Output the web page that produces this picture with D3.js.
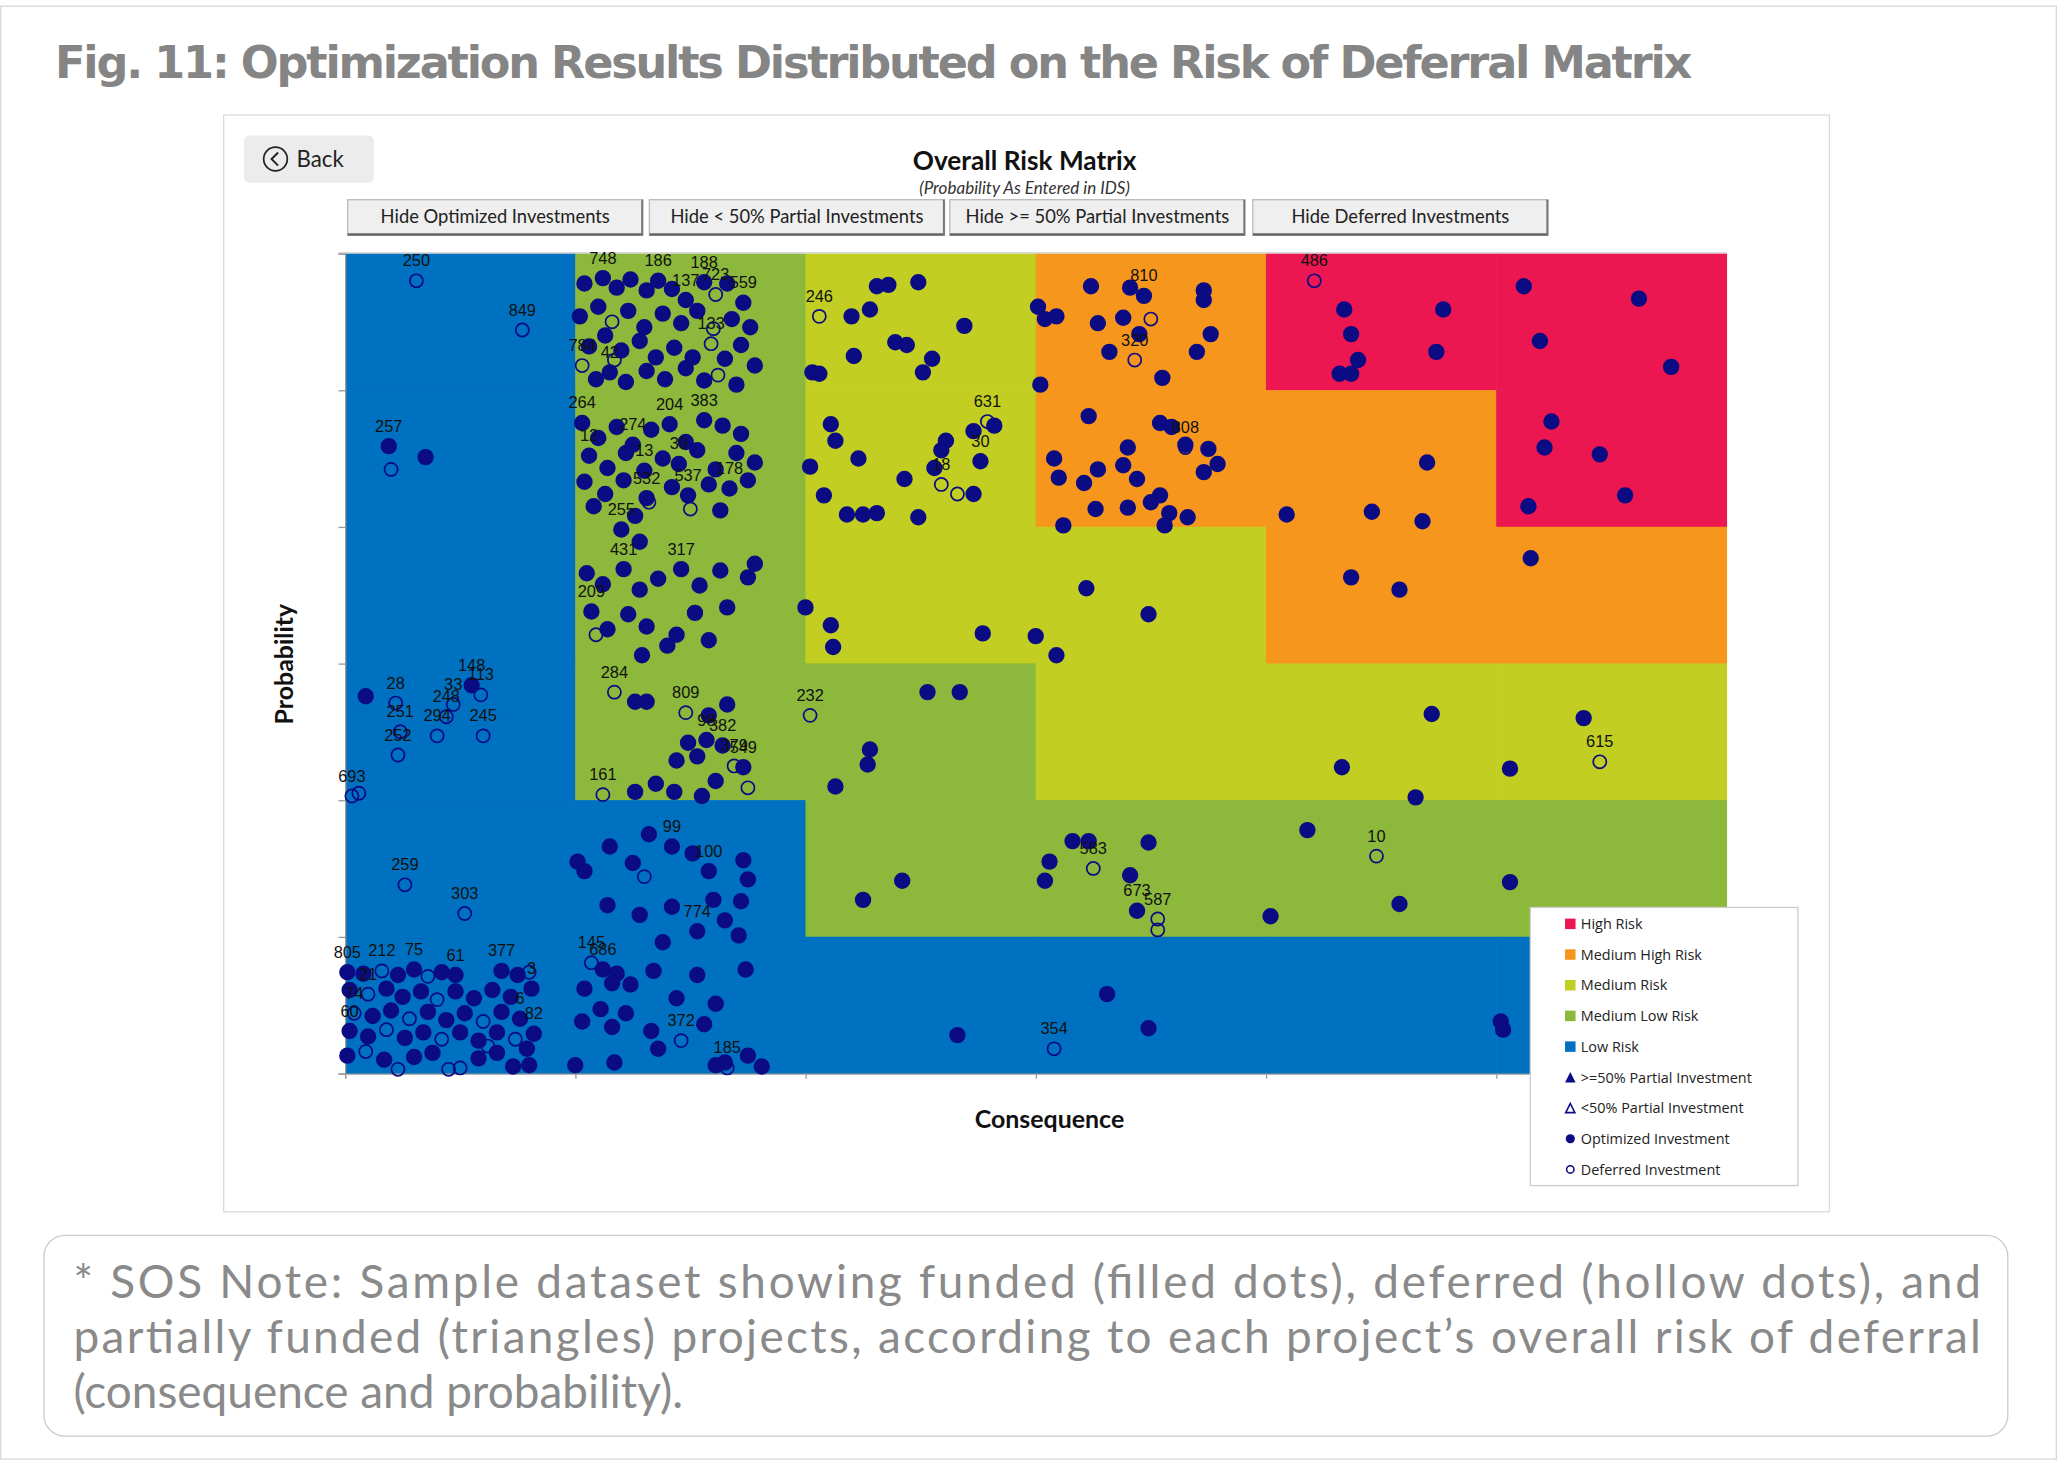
<!DOCTYPE html>
<html><head><meta charset="utf-8">
<script src="https://cdn.jsdelivr.net/npm/d3@7"></script>
<style>body{margin:0;background:#fff}svg{display:block}</style>
</head><body>
<script>
// risk zone grid: rows from top (probability band 6) to bottom (band 1), columns = consequence bands
const zoneRows = [
  ["Low","MedLow","Medium","MedHigh","High","High"],
  ["Low","MedLow","Medium","MedHigh","MedHigh","High"],
  ["Low","MedLow","Medium","Medium","MedHigh","MedHigh"],
  ["Low","MedLow","MedLow","Medium","Medium","Medium"],
  ["Low","Low","MedLow","MedLow","MedLow","MedLow"],
  ["Low","Low","Low","Low","Low","Low"]
];
const zoneNames = ["High","MedHigh","Medium","MedLow","Low"];
const zoneColors = ["#ec1651","#f7961d","#c2cf22","#8cb83b","#0070c0"];
const buttons = ["Hide Optimized Investments","Hide < 50% Partial Investments","Hide >= 50% Partial Investments","Hide Deferred Investments"];
const legendLabels = ["High Risk","Medium High Risk","Medium Risk","Medium Low Risk","Low Risk",">=50% Partial Investment","<50% Partial Investment","Optimized Investment","Deferred Investment"];

// points: [consequence, probability, type (o = optimized, d = deferred), label]
const ptsRed = [[42.1,58,"d","486"],[43.4,55.9,"o"],[43.7,54.1,"o"],[44,52.2,"o"],[43.2,51.2,"o"],[43.7,51.2,"o"],
 [47.7,55.9,"o"],[47.4,52.8,"o"],[51.2,57.6,"o"],[51.9,53.6,"o"],[56.2,56.7,"o"],[57.6,51.7,"o"],
 [52.4,47.7,"o"],[52.1,45.8,"o"],[54.5,45.3,"o"],[55.6,42.3,"o"],[51.4,41.5,"o"]];
const ptsRight = [[47,44.7,"o"],[44.6,41.1,"o"],[46.8,40.4,"o"],[40.9,40.9,"o"],[43.7,36.3,"o"],[45.8,35.4,"o"],[51.5,37.7,"o"],
 [47.2,26.3,"o"],[53.8,26,"o"],[54.5,22.8,"d","615"],[43.3,22.4,"o"],[50.6,22.3,"o"],[46.5,20.2,"o"],
 [41.8,17.8,"o"],[44.8,15.9,"d","10"],[45.8,12.4,"o"],[50.6,14,"o"],[40.2,11.5,"o"],[50.2,3.8,"o"],[50.3,3.2,"o"]];
const ptsMid = [[34.9,3.3,"o"],[33.1,5.8,"o"],[30.8,1.8,"d","354"],[26.6,2.8,"o"],
 [31.6,17,"o"],[32.3,17,"o"],[34.9,16.9,"o"],[30.6,15.5,"o"],[32.5,15,"d","583"],[34.1,14.5,"o"],[30.4,14.1,"o"],
 [34.4,11.9,"o","673"],[35.3,11.3,"d","587"],[35.3,10.5,"d"],
 [22.5,12.7,"o"],[24.2,14.1,"o"],[22.8,23.7,"o"],[22.7,22.6,"o"],[21.3,21,"o"],[20.2,26.2,"d","232"],[25.3,27.9,"o"],[26.7,27.9,"o"],
 [20,34.1,"o"],[21.1,32.8,"o"],[21.2,31.2,"o"],[27.7,32.2,"o"],[30,32,"o"],[30.9,30.6,"o"],[32.2,35.5,"o"],[34.9,33.6,"o"]];
const ptsYellow = [[20.6,55.4,"d","246"],[22,55.4,"o"],[22.8,55.9,"o"],[23.6,57.7,"o"],[23.1,57.6,"o"],[24.9,57.9,"o"],[26.9,54.7,"o"],
 [22.1,52.5,"o"],[23.9,53.5,"o"],[24.4,53.3,"o"],[25.5,52.3,"o"],[20.3,51.3,"o"],[20.6,51.2,"o"],[25.1,51.3,"o"],
 [28.2,47.4,"o"],[27.9,47.7,"d","631"],[27.3,47,"o"],[21.1,47.5,"o"],[21.3,46.3,"o"],[22.3,45,"o"],[20.2,44.4,"o"],
 [26.1,46.3,"o"],[25.9,45.6,"o"],[25.9,43.1,"d","18"],[26.6,42.4,"d"],[27.3,42.4,"o"],[25.6,44.3,"o"],[27.6,44.8,"o","30"],
 [24.3,43.5,"o"],[20.8,42.3,"o"],[21.8,40.9,"o"],[22.5,40.9,"o"],[24.9,40.7,"o"],[23.1,41,"o"]];
const ptsOrange = [[30.1,56.1,"o"],[30.4,55.2,"o"],[30.9,55.4,"o"],[32.4,57.6,"o"],[34.1,57.5,"o"],[34.7,56.9,"o","810"],[37.3,57.3,"o"],[37.3,56.6,"o"],
 [32.7,54.9,"o"],[33.8,55.3,"o"],[35,55.2,"d"],[34.5,54.1,"o"],[33.2,52.8,"o"],[34.3,52.2,"d","320"],[37.6,54.1,"o"],[37,52.8,"o"],
 [35.5,50.9,"o"],[30.2,50.4,"o"],[32.3,48.1,"o"],[35.9,47.3,"o"],[35.4,47.6,"o"],[36.5,46,"o"],[36.5,45.8,"d","808"],[37.5,45.7,"o"],
 [37.9,44.6,"o"],[37.3,44,"o"],[34,45.8,"o"],[33.8,44.5,"o"],[32.7,44.2,"o"],[34.4,43.5,"o"],[30.8,45,"o"],[31,43.6,"o"],[32.1,43.2,"o"],
 [35.4,42.3,"o"],[34,41.4,"o"],[32.6,41.3,"o"],[35,41.8,"o"],[31.2,40.1,"o"],[35.6,40.1,"o"],[36.6,40.7,"o"],[35.8,41,"o"]];
const ptsGreen = [
 [10.4,57.8,"o"],[11.2,58.2,"o","748"],[11.8,57.5,"o"],[12.4,58.1,"o"],[13.1,57.3,"o"],[13.6,58,"o","186"],[14.2,57.4,"o"],[14.8,56.6,"o","137"],
 [15.6,57.9,"o","188"],[16.1,57,"d","723"],[16.6,57.8,"o"],[17.3,56.4,"o","559"],[10.2,55.4,"o"],[11,56.1,"o"],[11.6,55,"d"],[12.3,55.8,"o"],
 [13,54.6,"o"],[13.8,55.6,"o"],[14.6,54.9,"o"],[15.3,55.8,"o"],[16,54.5,"d"],[16.8,55.2,"o"],[17.6,54.6,"o"],[10.6,53.2,"o"],[11.3,54,"o"],
 [12,52.9,"o"],[12.8,53.6,"o"],[13.5,52.4,"o"],[14.3,53.1,"o"],[15.1,52.4,"o"],[15.9,53.4,"d","133"],[16.5,52.3,"o"],[17.2,53.3,"o"],
 [10.3,51.8,"d","784"],[11.5,51.3,"o","42"],[12.2,50.6,"o"],[13.1,51.4,"o"],[13.9,50.8,"o"],[14.8,51.6,"o"],[15.6,50.7,"o"],[16.2,51.1,"d"],
 [17,50.4,"o"],[17.8,51.8,"o"],[11.7,52.2,"d"],[10.9,50.8,"o"],
 [10.3,47.6,"o","264"],[11,46.5,"o"],[11.8,47.3,"o"],[12.5,46,"o","274"],[13.3,47.1,"o"],[14.1,47.5,"o","204"],[14.8,46.2,"o"],[15.6,47.8,"o","383"],
 [16.4,47.4,"o"],[17.2,46.8,"o"],[10.6,45.2,"o","12"],[11.4,44.3,"o"],[12.2,45.4,"o"],[13,44.1,"o","13"],[13.8,45,"o"],[14.5,44.6,"o","39"],
 [15.3,45.6,"o"],[16.1,44.2,"o"],[17,45.4,"o"],[17.8,44.7,"o"],[10.4,43.3,"o"],[11.3,42.4,"o"],[12.1,43.4,"o"],[13.1,42.1,"o","532"],
 [14.2,42.9,"o"],[14.9,42.3,"o","537"],[15.8,43.1,"o"],[16.7,42.8,"o","178"],[17.5,43.4,"o"],[10.8,41.5,"o"],[12.6,40.8,"o"],[13.2,41.8,"d"],
 [15,41.3,"d"],[16.3,41.2,"o"],[12,39.8,"o","255"],[12.8,38.9,"o"],
 [10.5,36.6,"o"],[11.2,35.8,"o"],[12.1,36.9,"o","431"],[12.8,35.4,"o"],[13.6,36.2,"o"],[14.6,36.9,"o","317"],[15.4,35.7,"o"],[16.3,36.8,"o"],
 [17.5,36.3,"o"],[17.8,37.3,"o"],[10.7,33.8,"o","209"],[11.4,32.5,"o"],[12.3,33.6,"o"],[13.1,32.7,"o"],[14.4,32.1,"o"],[15.2,33.7,"o"],[15.8,31.7,"o"],
 [12.9,30.6,"o"],[14,31.3,"o"],[10.9,32.1,"d"],[16.6,34.1,"o"],
 [11.7,27.9,"d","284"],[12.6,27.2,"o"],[13.1,27.2,"o"],[14.8,26.4,"d","809"],[15.8,26.2,"o"],[16.6,27,"o"],[14.9,24.2,"o"],[15.7,24.4,"o","98"],
 [16.4,24,"o","382"],[16.9,22.5,"d","379"],[17.3,22.4,"o","549"],[15.3,23.2,"o"],[14.4,22.9,"o"],[12.6,20.6,"o"],[13.5,21.2,"o"],[14.3,20.6,"o"],
 [15.5,20.3,"o"],[17.5,20.9,"d"],[11.2,20.4,"d","161"],[16.1,21.4,"o"]];
const ptsLowMid = [
 [10.1,15.5,"o"],[10.4,14.8,"o"],[11.5,16.6,"o"],[12.5,15.4,"o"],[13.2,17.5,"o"],[14.2,16.6,"o","99"],[15.1,16.1,"o"],[15.8,14.8,"o","100"],
 [13,14.4,"d"],[17.3,15.6,"o"],[17.5,14.2,"o"],[17.2,12.6,"o"],[16,12.7,"o"],[16.5,11.2,"o"],[15.3,10.4,"o","774"],[17.1,10.1,"o"],
 [11.4,12.3,"o"],[12.8,11.6,"o"],[14.2,12.2,"o"],[13.8,9.6,"o"],[10.7,8.1,"d","145"],[11.2,7.6,"o","686"],[11.8,7.3,"o"],[10.4,6.2,"o"],
 [11.6,6.6,"o"],[12.4,6.5,"o"],[13.4,7.5,"o"],[15.3,7.2,"o"],[17.4,7.6,"o"],[14.4,5.5,"o"],[16.1,5.1,"o"],[11.1,4.7,"o"],[12.2,4.4,"o"],
 [10.3,3.8,"o"],[11.6,3.4,"o"],[13.3,3.1,"o"],[14.6,2.4,"d","372"],[15.6,3.6,"o"],[13.6,1.8,"o"],[16.1,0.6,"o"],[16.6,0.4,"d","185"],
 [17.5,1.3,"o"],[18.1,0.5,"o"],[10,0.6,"o"],[11.7,0.8,"o"],[16.5,0.8,"o"]];
const ptsLowLeft = [
 [3.1,58,"d","250"],[7.7,54.4,"d","849"],[1.9,45.9,"o","257"],[2,44.2,"d"],[3.5,45.1,"o"],
 [0.9,27.6,"o"],[2.2,27.1,"d","28"],[5.5,28.4,"o","148"],[5.9,27.7,"d","113"],[4.7,27,"d","33"],[4.4,26.1,"d","248"],[4,24.7,"d","294"],
 [6,24.7,"d","245"],[2.4,25,"d","251"],[2.3,23.3,"d","252"],[0.3,20.3,"d","693"],[0.6,20.5,"d"],[2.6,13.8,"d","259"],[5.2,11.7,"d","303"],
 [0.1,7.4,"o","805"],[0.8,7.3,"o"],[1.6,7.5,"d","212"],[2.3,7.2,"o"],[3,7.6,"o","75"],[3.6,7.1,"d"],[4.2,7.4,"o"],[4.8,7.2,"o","61"],[6.8,7.5,"o","377"],
 [7.5,7.2,"o"],[8,7.4,"d"],[0.2,6.1,"o"],[1,5.8,"d","21"],[1.8,6.2,"o"],[2.5,5.6,"o"],[3.3,6,"o"],[4,5.4,"d"],[4.8,6,"o"],[5.6,5.5,"o"],
 [6.4,6.1,"o"],[7.2,5.6,"o"],[8.1,6.2,"o","3"],[0.4,4.4,"d","74"],[1.2,4.2,"o"],[2,4.6,"o"],[2.8,4,"d"],[3.6,4.5,"o"],[4.4,3.9,"o"],
 [5.2,4.4,"o"],[6,3.8,"d"],[6.8,4.5,"o"],[7.6,4,"o","6"],[0.2,3.1,"o","60"],[1,2.7,"o"],[1.8,3.2,"d"],[2.6,2.6,"o"],[3.4,3,"o"],
 [4.2,2.5,"d"],[5,3,"o"],[5.8,2.4,"o"],[6.6,3,"o"],[7.4,2.5,"d"],[8.2,2.9,"o","82"],[0.1,1.3,"o"],[0.9,1.6,"d"],[1.7,1,"o"],[2.3,0.3,"d"],
 [3,1.2,"o"],[3.8,1.5,"o"],[4.5,0.3,"d"],[5,0.4,"d"],[5.8,1.1,"o"],[6.6,1.5,"o"],[7.3,0.5,"o"],[8,0.6,"o"],[7.9,1.8,"o"],[6.2,2,"d"]];
const points = [].concat(ptsRed, ptsRight, ptsMid, ptsYellow, ptsOrange, ptsGreen, ptsLowMid, ptsLowLeft);

const W = 1568, H = 1112;
const svg = d3.select("body").append("svg").attr("width", 2057).attr("height", 1462).attr("viewBox", `0 0 ${W} ${H}`);
const ink = "#0b0b84";

svg.append("rect").attr("x", 0.5).attr("y", 3.5).attr("width", W - 1).attr("height", H - 4.5).attr("fill", "#fff").attr("stroke", "#d8d8d8");
svg.append("text").attr("x", 42).attr("y", 58).attr("font-family", "DejaVu Sans").attr("font-weight", "bold")
  .attr("font-size", 34).attr("fill", "#858585").attr("textLength", 1248).text("Fig. 11: Optimization Results Distributed on the Risk of Deferral Matrix");

// chart panel
svg.append("rect").attr("x", 170.5).attr("y", 86.5).attr("width", 1224).attr("height", 836).attr("fill", "#fff").attr("stroke", "#dcdcdc");
svg.append("rect").attr("x", 186).attr("y", 102).attr("width", 99).attr("height", 36).attr("rx", 4).attr("fill", "#ececec");
svg.append("circle").attr("cx", 210).attr("cy", 120).attr("r", 9).attr("fill", "none").attr("stroke", "#222").attr("stroke-width", 1.3);
svg.append("path").attr("d", "M212,115 L207,120 L212,125").attr("fill", "none").attr("stroke", "#222").attr("stroke-width", 1.5);
svg.append("text").attr("x", 226).attr("y", 126).attr("font-family", "Lato").attr("font-size", 17).attr("fill", "#222").text("Back");

svg.append("text").attr("x", 781).attr("y", 128).attr("text-anchor", "middle").attr("font-family", "Lato").attr("font-weight", "bold")
  .attr("font-size", 20).attr("fill", "#111").text("Overall Risk Matrix");
svg.append("text").attr("x", 781).attr("y", 147).attr("text-anchor", "middle").attr("font-family", "Lato").attr("font-style", "italic")
  .attr("font-size", 13).attr("fill", "#333").text("(Probability As Entered in IDS)");

const bx = [265, 495, 724, 955], bw = [225, 225, 225, 225];
const bg = svg.append("g").selectAll("g").data(buttons).join("g").attr("transform", (d, i) => `translate(${bx[i]},151)`);
bg.append("rect").attr("width", (d, i) => bw[i]).attr("height", 27).attr("fill", "#efefef").attr("stroke", "#bbb");
bg.append("line").attr("x1", 0).attr("x2", (d, i) => bw[i]).attr("y1", 26.5).attr("y2", 26.5).attr("stroke", "#666").attr("stroke-width", 2);
bg.append("line").attr("x1", (d, i) => bw[i] - 0.5).attr("x2", (d, i) => bw[i] - 0.5).attr("y1", 0).attr("y2", 27).attr("stroke", "#777").attr("stroke-width", 1.5);
bg.append("text").attr("x", (d, i) => bw[i] / 2).attr("y", 18).attr("text-anchor", "middle").attr("font-family", "Lato")
  .attr("font-size", 14).attr("fill", "#222").text(d => d);

// plot
const x = d3.scaleLinear().domain([0, 60]).range([263, 1316]);
const y = d3.scaleLinear().domain([0, 60]).range([817, 192]);
const color = d3.scaleOrdinal().domain(zoneNames).range(zoneColors);
const cells = [];
zoneRows.forEach((row, r) => row.forEach((z, c) => cells.push({c, r: 5 - r, z})));
svg.append("g").selectAll("rect").data(cells).join("rect")
  .attr("x", d => x(d.c * 10)).attr("y", d => y(d.r * 10 + 10))
  .attr("width", x(10) - x(0) + 0.5).attr("height", y(0) - y(10) + 0.5).attr("fill", d => color(d.z));
svg.append("line").attr("x1", 258).attr("x2", 1316).attr("y1", 191.5).attr("y2", 191.5).attr("stroke", "#ccc");

const ticks = d3.range(0, 61, 10);
svg.append("g").attr("transform", "translate(0,817)")
  .call(d3.axisBottom(x).tickValues(ticks).tickFormat("").tickSize(4))
  .call(g => g.selectAll("path,line").attr("stroke", "#999"));
svg.append("g").attr("transform", "translate(263,0)")
  .call(d3.axisLeft(y).tickValues(ticks).tickFormat("").tickSize(5))
  .call(g => g.selectAll("path,line").attr("stroke", "#999"));

svg.append("text").attr("x", 800).attr("y", 859).attr("text-anchor", "middle").attr("font-family", "Lato").attr("font-weight", "bold")
  .attr("font-size", 19).attr("fill", "#111").text("Consequence");
svg.append("text").attr("transform", "translate(223,505) rotate(-90)").attr("text-anchor", "middle").attr("font-family", "Lato")
  .attr("font-weight", "bold").attr("font-size", 19).attr("fill", "#111").text("Probability");

const pg = svg.append("g");
pg.selectAll("circle").data(points).join("circle")
  .attr("cx", d => x(d[0])).attr("cy", d => y(d[1])).attr("r", d => d[2] === "o" ? 5.6 : 5)
  .attr("fill", d => d[2] === "o" ? ink : "none").attr("stroke", ink).attr("stroke-width", 1.3);
pg.selectAll("text").data(points.filter(d => d[3])).join("text")
  .attr("x", d => x(d[0])).attr("y", d => y(d[1]) - 11).attr("text-anchor", "middle")
  .attr("font-family", "Liberation Sans").attr("font-size", 12.5).attr("fill", "#111").text(d => d[3]);

// legend
const lg = svg.append("g").attr("transform", "translate(1166,690)");
lg.append("rect").attr("x", 0.5).attr("y", 0.5).attr("width", 204).attr("height", 212).attr("fill", "#fff").attr("stroke", "#ccc");
const li = lg.selectAll("g").data(legendLabels).join("g").attr("transform", (d, i) => `translate(31,${13 + i * 23.4})`);
li.filter((d, i) => i < 5).append("rect").attr("x", -4).attr("y", -4).attr("width", 8).attr("height", 8).attr("fill", (d, i) => zoneColors[i]);
li.filter((d, i) => i === 5).append("path").attr("d", "M-4,4 L0,-4 L4,4 Z").attr("fill", ink);
li.filter((d, i) => i === 6).append("path").attr("d", "M-3.5,3.5 L0,-3.5 L3.5,3.5 Z").attr("fill", "none").attr("stroke", ink).attr("stroke-width", 1.2);
li.filter((d, i) => i === 7).append("circle").attr("r", 3.5).attr("fill", ink);
li.filter((d, i) => i === 8).append("circle").attr("r", 2.8).attr("fill", "none").attr("stroke", ink).attr("stroke-width", 1.2);
li.append("text").attr("x", 8).attr("y", 4).attr("font-family", "Open Sans").attr("font-size", 11).attr("fill", "#222").text(d => d);

// note box
svg.append("rect").attr("x", 33.5).attr("y", 940.5).attr("width", 1497).attr("height", 153).attr("rx", 16).attr("fill", "#fff").attr("stroke", "#ccc");
const note = ["* SOS Note: Sample dataset showing funded (filled dots), deferred (hollow dots), and",
  "partially funded (triangles) projects, according to each project\u2019s overall risk of deferral",
  "(consequence and probability)."];
svg.append("g").selectAll("text").data(note).join("text")
  .attr("x", 56).attr("y", (d, i) => 988 + i * 42).attr("font-family", "Lato").attr("font-size", 35).attr("fill", "#8a8a8a")
  .attr("textLength", (d, i) => i < 2 ? 1454 : null).text(d => d);
</script>
</body></html>
